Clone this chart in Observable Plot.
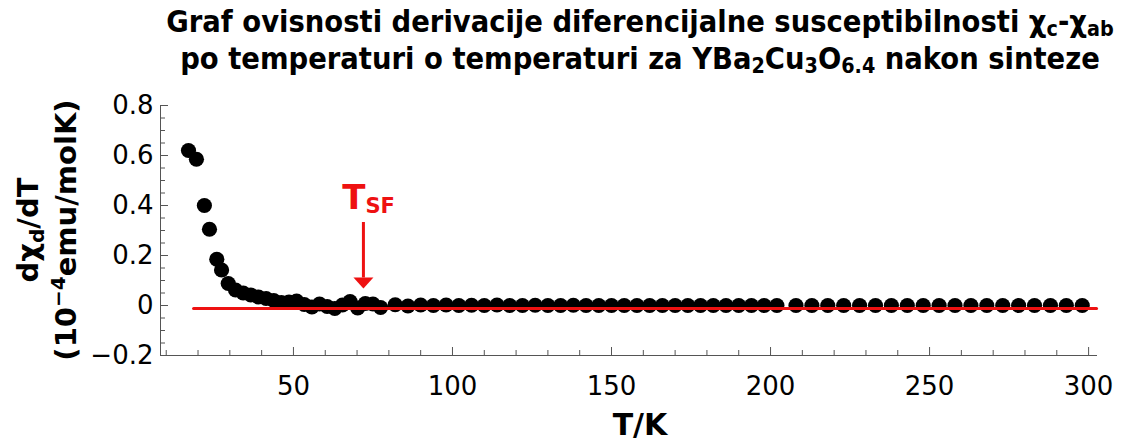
<!DOCTYPE html>
<html><head><meta charset="utf-8">
<script src="https://cdn.jsdelivr.net/npm/d3@7"></script>
<script src="https://cdn.jsdelivr.net/npm/@observablehq/plot@0.6"></script>
<style>
body{margin:0;background:#fff;}
#title{height:85px;box-sizing:border-box;padding-top:3px;padding-left:154px;text-align:center;font-family:"DejaVu Sans Condensed","DejaVu Sans",sans-serif;font-stretch:condensed;font-weight:bold;font-size:30.5px;line-height:37px;color:#000;white-space:nowrap;}
#title sub{font-size:70%;vertical-align:-0.2em;line-height:0;}
</style></head><body>
<div id="title">Graf ovisnosti derivacije diferencijalne susceptibilnosti χ<sub>c</sub>-χ<sub>ab</sub><br>po temperaturi o temperaturi za YBa<sub>2</sub>Cu<sub>3</sub>O<sub>6.4</sub> nakon sinteze</div>
<div id="chart"></div>
<script>
// Temperatures (K) of the measured points
const temps = [
  17, 19.5, 22, 23.6, 25.9, 27.4, 29.5, 31.8, 34.2, 36.6, 39, 41.4, 43.8, 46.2, 48.6,
  51, 53.4, 55.8, 58.2, 60.6, 63, 65.4, 67.8, 70.2, 72.6, 75, 77.4,
  82, 86, 90, 94, 98, 102, 106, 110, 114, 118, 122, 126, 130, 134, 138, 142, 146,
  150, 154, 158, 162, 166, 170, 174, 178, 182, 186, 190, 194, 198, 202,
  208, 213, 218, 223, 228, 233, 238, 243, 248, 253, 258, 263, 268, 273, 278, 283, 288, 293, 298
];
// dχd/dT values (10^-4 emu/molK)
const values = [
  0.62, 0.585, 0.40, 0.305, 0.185, 0.142, 0.088, 0.062, 0.05, 0.042, 0.034, 0.028, 0.02, 0.012, 0.014,
  0.018, 0.004, -0.006, 0.006, -0.004, -0.012, 0.002, 0.016, -0.01, 0.008, 0.006, -0.008,
  0.003, -0.002, 0.002, 0, 0.002, 0, 0.001, 0, 0.002, 0, 0, 0.001, 0, 0, 0.001, 0, 0,
  0, 0, 0, 0, 0, 0, 0, 0, 0, 0, 0, 0, 0, 0,
  0, 0, 0, 0, 0, 0, 0, 0, 0, 0, 0, 0, 0, 0, 0, 0, 0, 0, 0
];
// Red baseline
const baseT = [18.6, 302.5];
const baseV = [-0.012, -0.012];
// T_SF annotation
const tsfT = [72];
const arrowTop = [0.332];
const arrowHeadBase = [0.11];
const arrowTip = [0.068];
const labelT = [0.388];
const labelSF = [0.372];
// Axes
const xDomain = [8.2, 302.8];
const yDomain = [-0.2, 0.8];
const xMajor = [50, 100, 150, 200, 250, 300];
const xMinor = [10, 20, 30, 40, 60, 70, 80, 90, 110, 120, 130, 140, 160, 170, 180, 190, 210, 220, 230, 240, 260, 270, 280, 290];
const yMajor = [-0.2, 0, 0.2, 0.4, 0.6, 0.8];
const yMinor = [-0.15, -0.1, -0.05, 0.05, 0.1, 0.15, 0.25, 0.3, 0.35, 0.45, 0.5, 0.55, 0.65, 0.7, 0.75];

const W = 1126, H = 357, mL = 160, mR = 29, mT = 20, mB = 87;
const plotW = W - mL - mR, plotH = H - mT - mB;
const RED = "#ee1111", AX = "#555";

const points = temps.map((t, i) => ({t, v: values[i]}));
const base = baseT.map((t, i) => ({t, v: baseV[i]}));
const ann = tsfT.map((t, i) => ({t, top: arrowTop[i], hb: arrowHeadBase[i], tip: arrowTip[i], lT: labelT[i], lSF: labelSF[i]}));

const headSymbol = {
  draw(ctx, size) {
    const r = Math.sqrt(size / Math.PI);
    ctx.moveTo(0, 0);
    ctx.lineTo(-r, -1.1 * r);
    ctx.lineTo(r, -1.1 * r);
    ctx.closePath();
  }
};
const fmtY = d => (d < 0 ? "\u2212" : "") + String(Math.abs(d));

const plot = Plot.plot({
  width: W, height: H,
  marginLeft: mL, marginRight: mR, marginTop: mT, marginBottom: mB,
  x: {domain: xDomain},
  y: {domain: yDomain},
  style: {background: "#fff", fontFamily: "DejaVu Sans", color: "#000"},
  marks: [
    Plot.ruleY([yDomain[0]], {stroke: AX}),
    Plot.ruleX([xDomain[0]], {stroke: AX}),
    Plot.tickX(xMajor, {x: d => d, insetTop: plotH - 8, stroke: AX}),
    Plot.tickX(xMinor.filter(d => d > xDomain[0]), {x: d => d, insetTop: plotH - 5, stroke: AX}),
    Plot.tickY(yMajor, {y: d => d, insetRight: plotW - 8, stroke: AX}),
    Plot.tickY(yMinor, {y: d => d, insetRight: plotW - 5, stroke: AX}),
    Plot.axisX(xMajor, {tickSize: 0, tickPadding: 21, fontSize: 26, label: null, fill: "#000"}),
    Plot.axisY(yMajor, {tickSize: 0, tickPadding: 7, fontSize: 26, label: null, fill: "#000", tickFormat: fmtY}),
    Plot.dot(points, {x: "t", y: "v", r: 7.6, fill: "#000", stroke: null}),
    Plot.line(base, {x: "t", y: "v", stroke: RED, strokeWidth: 3}),
    Plot.ruleX(ann, {x: "t", y1: "top", y2: "hb", stroke: RED, strokeWidth: 3}),
    Plot.dot(ann, {x: "t", y: "tip", symbol: headSymbol, r: 10, fill: RED, stroke: null}),
    Plot.text(ann, {x: "t", y: "lT", text: () => "T", textAnchor: "end", lineAnchor: "bottom", dx: 2, fontSize: 34, fontWeight: "bold", fill: RED}),
    Plot.text(ann, {x: "t", y: "lSF", text: () => "SF", textAnchor: "start", lineAnchor: "bottom", dx: 2, fontSize: 21, fontWeight: "bold", fill: RED})
  ]
});
document.getElementById("chart").appendChild(plot);

const svg = d3.select(plot);
const yc = plot.scale("y").apply((yDomain[0] + yDomain[1]) / 2);
const g = svg.append("g").attr("font-family", "DejaVu Sans").attr("font-weight", "bold").attr("font-size", 29).attr("fill", "#000");
const t1 = g.append("text").attr("transform", `translate(38,${yc}) rotate(-90)`).attr("text-anchor", "middle");
t1.append("tspan").text("dχ");
t1.append("tspan").attr("font-size", 20).attr("dy", 6).text("d");
t1.append("tspan").attr("dy", -6).text("/dT");
const t2 = g.append("text").attr("transform", `translate(76,${yc}) rotate(-90)`).attr("text-anchor", "middle");
t2.append("tspan").text("(10");
t2.append("tspan").attr("font-size", 20).attr("dy", -11).text("−4");
t2.append("tspan").attr("dy", 11).text("emu/molK)");
g.append("text").attr("x", 640).attr("y", 350).attr("text-anchor", "middle").attr("font-size", 30).text("T/K");
</script>
</body></html>
